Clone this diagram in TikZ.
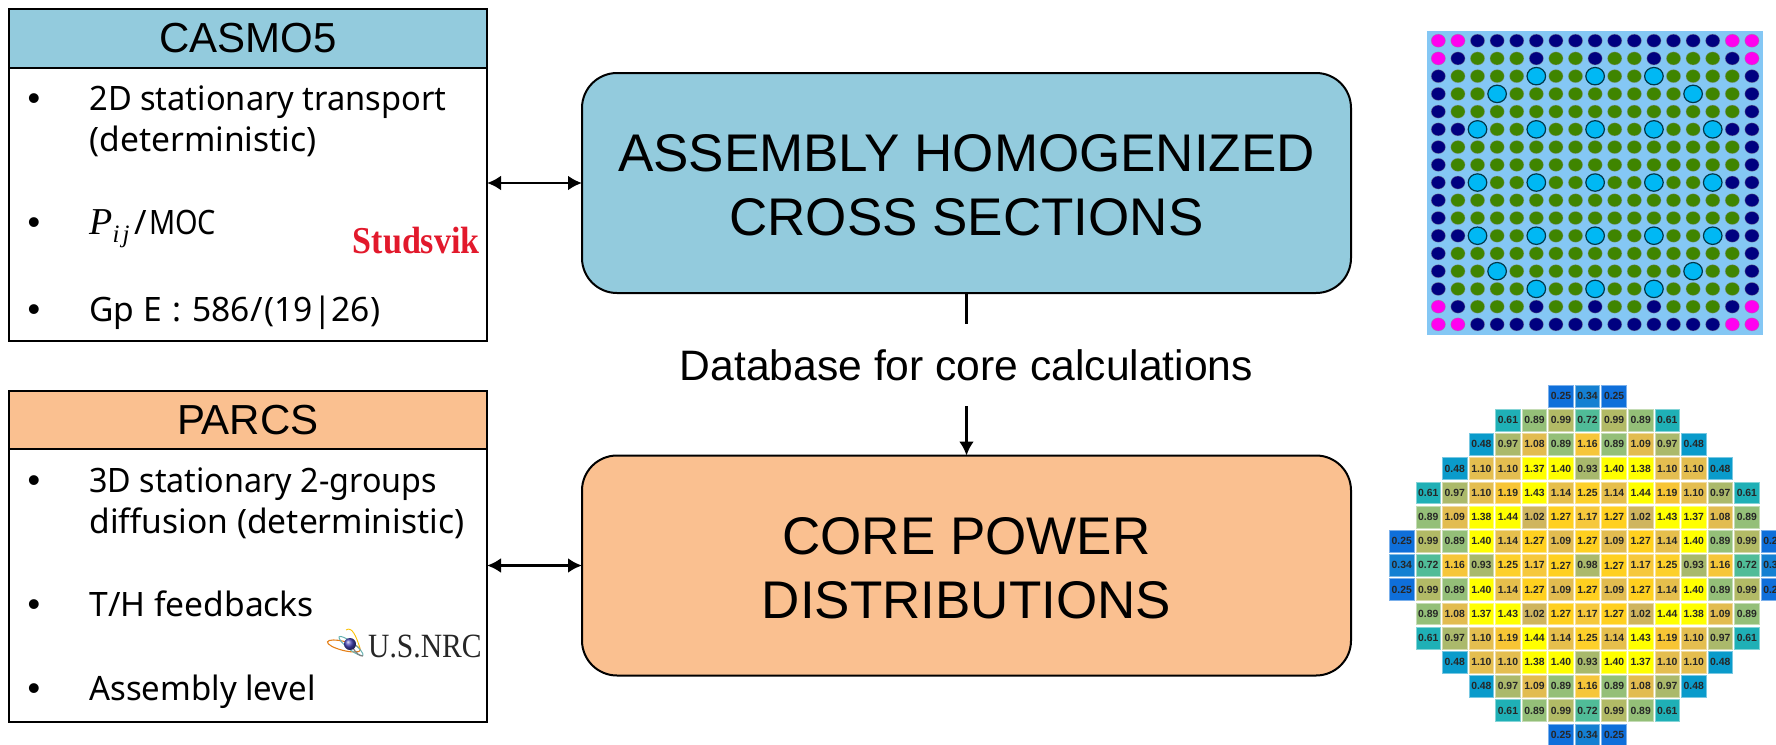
\documentclass[tikz,border=0pt]{standalone}
\usepackage{fontspec}
\setmainfont{Liberation Sans}
\newfontfamily\bodyfnt{Noto Sans}
\newfontfamily\serfnt{Liberation Serif}
\usetikzlibrary{arrows.meta}
\definecolor{hblue}{HTML}{93CBDD}
\definecolor{horange}{HTML}{FAC090}
\definecolor{studred}{HTML}{E2192C}
\definecolor{dotm}{HTML}{FF00F0}
\definecolor{dotn}{HTML}{000080}
\definecolor{dotg}{HTML}{3F8500}
\definecolor{dotc}{HTML}{00B8F4}
\definecolor{panelbg}{HTML}{84C7F4}
\definecolor{cv0.25}{HTML}{0F6FDA}
\definecolor{cv0.34}{HTML}{1480D2}
\definecolor{cv0.48}{HTML}{0A9BCB}
\definecolor{cv0.61}{HTML}{1FB0B6}
\definecolor{cv0.72}{HTML}{50BC98}
\definecolor{cv0.89}{HTML}{94BF78}
\definecolor{cv0.93}{HTML}{A8B96C}
\definecolor{cv0.97}{HTML}{ABB96B}
\definecolor{cv0.98}{HTML}{ABB96B}
\definecolor{cv0.99}{HTML}{B2BA66}
\definecolor{cv1.02}{HTML}{CFB55E}
\definecolor{cv1.08}{HTML}{E2BC50}
\definecolor{cv1.09}{HTML}{E2BC50}
\definecolor{cv1.10}{HTML}{E4BE50}
\definecolor{cv1.14}{HTML}{E6BF4C}
\definecolor{cv1.16}{HTML}{F6C63A}
\definecolor{cv1.17}{HTML}{F6C83C}
\definecolor{cv1.19}{HTML}{F7C535}
\definecolor{cv1.25}{HTML}{FDD02A}
\definecolor{cv1.27}{HTML}{FFD020}
\definecolor{cv1.37}{HTML}{FFFF00}
\definecolor{cv1.38}{HTML}{FFFF00}
\definecolor{cv1.40}{HTML}{FFFF00}
\definecolor{cv1.43}{HTML}{FFFF00}
\definecolor{cv1.44}{HTML}{FFFF00}
\newcommand{\topstrut}{\rule{0pt}{20.9pt}}
\tikzset{
  big/.style={draw=black,line width=1pt,rounded corners=17.5pt,minimum width=384.5pt,minimum height=110pt,
    inner sep=0pt,outer sep=0pt,align=center,font=\fontsize{26.5}{32}\selectfont},
  head/.style={draw=black,line width=1pt,minimum width=239.2pt,minimum height=29.3pt,inner sep=0pt,outer sep=0pt,
    font=\fontsize{21}{25}\selectfont},
  panel/.style={draw=black,line width=1pt,minimum width=239.2pt,inner sep=0pt,outer sep=0pt},
  bull/.style={anchor=base,inner sep=0pt,font=\fontsize{18}{22}\selectfont},
  item/.style={anchor=base west,inner sep=0pt,align=left,font=\bodyfnt\fontsize{16.8}{20.2}\selectfont},
  conn/.style={line width=1.35pt,black},
  dm/.style={fill=dotm},dn/.style={fill=dotn},dg/.style={fill=dotg},
  dotrim/.style={draw=black!45,draw opacity=.45,line width=.35pt},
  gtube/.style={fill=dotc,draw=black!70!dotc,line width=.6pt},
  cellbox/.style={minimum width=12.3pt,minimum height=10.9pt,inner sep=0pt,outer sep=0pt,line width=.4pt,
    text=black!85,font=\bfseries\fontsize{5.2}{6}\selectfont},
}
\begin{document}
\begin{tikzpicture}[x=0.5pt,y=-0.5pt]
\useasboundingbox (0,0) rectangle (1776,744);
% central boxes
\node[big,fill=hblue] (xs) at (966.5,183) {\topstrut ASSEMBLY HOMOGENIZED\\CROSS SECTIONS};
\node[big,fill=horange] (pd) at (966.5,565.5) {\topstrut CORE POWER\\DISTRIBUTIONS};
\node[inner sep=0pt,outer sep=0pt,minimum height=41pt,font=\fontsize{21.3}{25}\selectfont] (db) at (966.5,365) {Database for core calculations};
% left panels
\node[panel,minimum height=136.5pt] (cb) at (247.8,204.2) {};
\node[head,fill=hblue] (ch) at (247.8,38.4) {CASMO5};
\node[panel,minimum height=136.5pt] (pb) at (247.8,585.5) {};
\node[head,fill=horange] (ph) at (247.8,419.9) {PARCS};
% CASMO items
\node[bull] (b1) at (34,110.7) {•};
\node[item] (t1) at (89,151) {\scalebox{.97}[1]{2D stationary transport}\\(deterministic)};
\node[bull] (b2) at (34,234) {•};
\node[item] (t2) at (89,234) {{\serfnt\itshape\fontsize{19}{20}\selectfont P}\raisebox{-4pt}{\serfnt\itshape\fontsize{12.5}{14}\selectfont i\kern1.5pt j}\kern2.5pt/\kern1pt\scalebox{.86}[1]{MOC}};
\node[bull] (b3) at (34,321.7) {•};
\node[item] (t3) at (89,321.7) {Gp E\kern1pt{} :\kern1pt{} 586/\kern1pt(19|26)};
\node[anchor=base east,inner sep=0pt,text=studred,font=\serfnt\bfseries\fontsize{19}{22}\selectfont] (st) at (480,253) {\scalebox{.895}[1]{Studsvik}};
% PARCS items
\node[bull] (b4) at (34,492.7) {•};
\node[item] (t4) at (89,533) {\scalebox{.96}[1]{3D stationary 2-groups}\\diffusion (deterministic)};
\node[bull] (b5) at (34,616) {•};
\node[item] (t5) at (89,616) {T/H feedbacks};
\node[bull] (b6) at (34,700.7) {•};
\node[item] (t6) at (89,700.7) {\scalebox{.98}[1]{Assembly level}};
\node[anchor=base east,inner sep=0pt,text=black!85,font=\serfnt\fontsize{17}{20}\selectfont] (nrc) at (482,657.7) {\scalebox{.87}[1]{U.S.NRC}};
% NRC emblem
\draw[orange!60!brown,line width=.55pt,rotate around={-14:(344,646)}] (344,646) ellipse [x radius=17,y radius=4.5];
\draw[yellow!55!orange,line width=.45pt] (346,630) .. controls (352,626) and (356,636) .. (360,648);
\draw[teal!60,line width=.5pt,rotate around={-38:(351,646)}] (351,646) ellipse [x radius=15,y radius=3.5];
\draw[black!50,line width=.6pt] (352,646) .. controls (356,654) and (360,656) .. (363,656);
\shade[ball color=blue!45!gray] (350,644) circle [radius=6];
% connectors
\draw[conn,{Latex[length=7pt,width=7.5pt]}-{Latex[length=7pt,width=7.5pt]}] (xs.west -| cb.east) -- (xs.west);
\draw[conn,{Latex[length=7pt,width=7.5pt]}-{Latex[length=7pt,width=7.5pt]}] (pd.west -| pb.east) -- (pd.west);
\draw[conn] (xs.south) -- (db.north);
\draw[conn,-{Latex[length=7pt,width=7.5pt]}] (db.south) -- (pd.north);
% assembly panel
\fill[panelbg] (1427,31) rectangle (1763,335);
\foreach \r/\row in {
 0/{m,m,n,n,n,n,n,n,n,n,n,n,n,n,n,m,m},
 1/{m,n,g,g,g,n,g,g,n,g,g,n,g,g,g,n,m},
 2/{n,g,g,g,g,c,g,g,c,g,g,c,g,g,g,g,n},
 3/{n,g,g,c,g,g,g,g,g,g,g,g,g,c,g,g,n},
 4/{n,g,g,g,g,g,g,g,g,g,g,g,g,g,g,g,n},
 5/{n,n,c,g,g,c,g,g,c,g,g,c,g,g,c,n,n},
 6/{n,g,g,g,g,g,g,g,g,g,g,g,g,g,g,g,n},
 7/{n,g,g,g,g,g,g,g,g,g,g,g,g,g,g,g,n},
 8/{n,n,c,g,g,c,g,g,c,g,g,c,g,g,c,n,n},
 9/{n,g,g,g,g,g,g,g,g,g,g,g,g,g,g,g,n},
 10/{n,g,g,g,g,g,g,g,g,g,g,g,g,g,g,g,n},
 11/{n,n,c,g,g,c,g,g,c,g,g,c,g,g,c,n,n},
 12/{n,g,g,g,g,g,g,g,g,g,g,g,g,g,g,g,n},
 13/{n,g,g,c,g,g,g,g,g,g,g,g,g,c,g,g,n},
 14/{n,g,g,g,g,c,g,g,c,g,g,c,g,g,g,g,n},
 15/{m,n,g,g,g,n,g,g,n,g,g,n,g,g,g,n,m},
 16/{m,m,n,n,n,n,n,n,n,n,n,n,n,n,n,m,m}}{
  \foreach \k [count=\i from 0] in \row {
    \if c\k
      \path[gtube,draw] ({1438.3+19.6*\i},{40.7+17.73*\r}) ellipse [x radius=9.3,y radius=8.7];
    \else
      \path[d\k,dotrim,draw] ({1438.3+19.6*\i},{40.7+17.73*\r}) ellipse [x radius=7.1,y radius=6.5];
    \fi
  }
}
% core map
\foreach \r/\st/\row in {
 0/6/{0.25,0.34,0.25},
 1/4/{0.61,0.89,0.99,0.72,0.99,0.89,0.61},
 2/3/{0.48,0.97,1.08,0.89,1.16,0.89,1.09,0.97,0.48},
 3/2/{0.48,1.10,1.10,1.37,1.40,0.93,1.40,1.38,1.10,1.10,0.48},
 4/1/{0.61,0.97,1.10,1.19,1.43,1.14,1.25,1.14,1.44,1.19,1.10,0.97,0.61},
 5/1/{0.89,1.09,1.38,1.44,1.02,1.27,1.17,1.27,1.02,1.43,1.37,1.08,0.89},
 6/0/{0.25,0.99,0.89,1.40,1.14,1.27,1.09,1.27,1.09,1.27,1.14,1.40,0.89,0.99,0.25},
 7/0/{0.34,0.72,1.16,0.93,1.25,1.17,1.27,0.98,1.27,1.17,1.25,0.93,1.16,0.72,0.34},
 8/0/{0.25,0.99,0.89,1.40,1.14,1.27,1.09,1.27,1.09,1.27,1.14,1.40,0.89,0.99,0.25},
 9/1/{0.89,1.08,1.37,1.43,1.02,1.27,1.17,1.27,1.02,1.44,1.38,1.09,0.89},
 10/1/{0.61,0.97,1.10,1.19,1.44,1.14,1.25,1.14,1.43,1.19,1.10,0.97,0.61},
 11/2/{0.48,1.10,1.10,1.38,1.40,0.93,1.40,1.37,1.10,1.10,0.48},
 12/3/{0.48,0.97,1.09,0.89,1.16,0.89,1.08,0.97,0.48},
 13/4/{0.61,0.89,0.99,0.72,0.99,0.89,0.61},
 14/6/{0.25,0.34,0.25}}{
  \foreach \v [count=\i from \st] in \row {
    \node[cellbox,fill=cv\v,draw=cv\v!55!white] (cell-\r-\i) at ({1401.7+26.55*\i},{396+24.2*\r}) {\v};
  }
}
\end{tikzpicture}
\end{document}
